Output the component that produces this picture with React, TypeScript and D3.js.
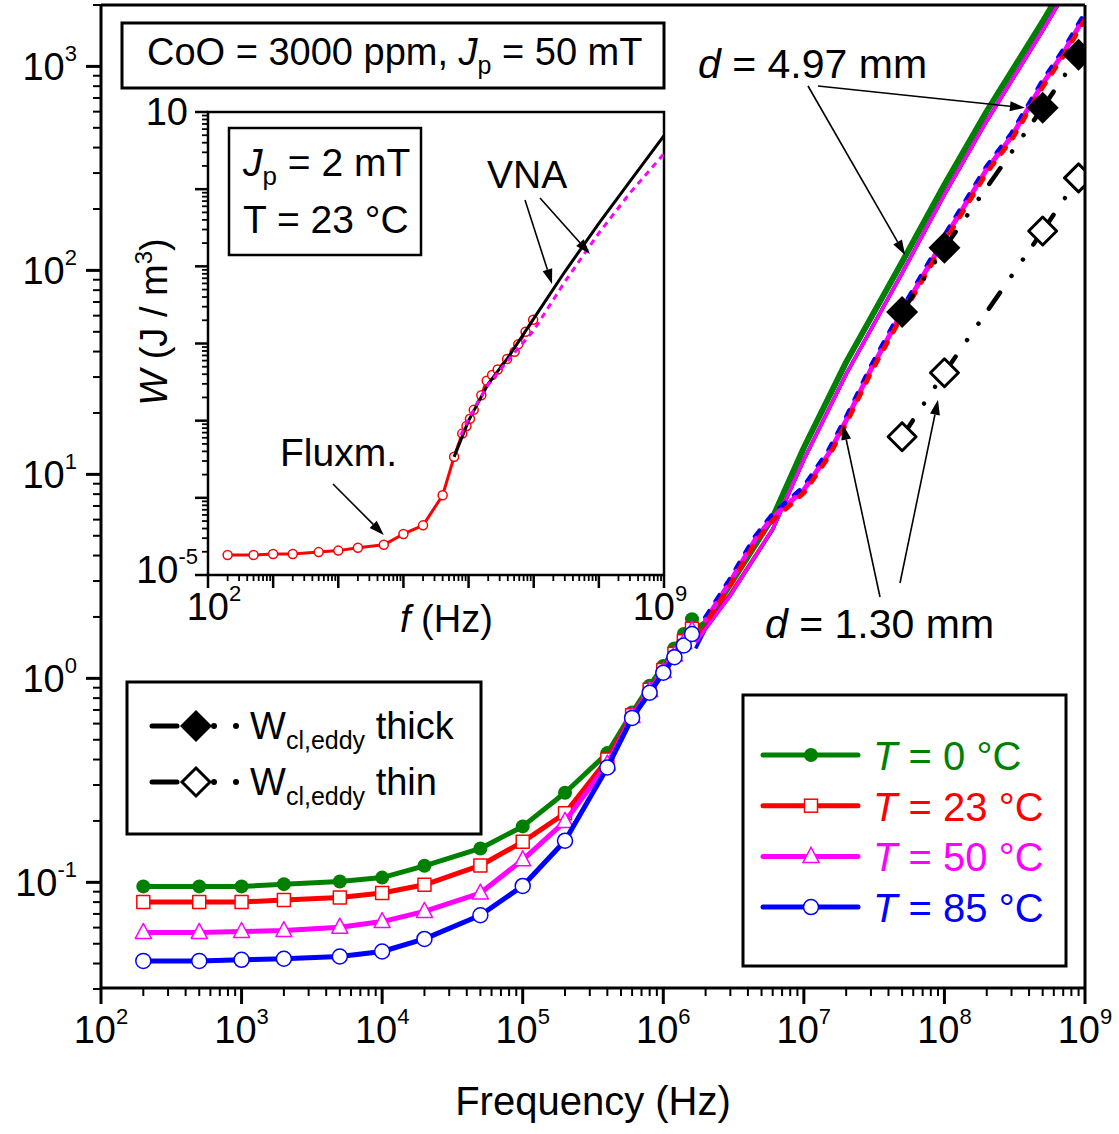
import React from "react";
import * as d3 from "d3";

const FONT = "'Liberation Sans', Arial, Helvetica, sans-serif";

// fluxmeter points, Jp = 50 mT (W in J/m^3)
const fluxFreq = [200, 500, 1e3, 2e3, 5e3, 1e4, 2e4, 5e4, 1e5, 2e5, 4e5, 6e5, 8e5, 1e6, 1.2e6, 1.4e6, 1.6e6];
const fluxT0 = [0.0955, 0.0955, 0.0955, 0.098, 0.101, 0.1055, 0.1205, 0.1466, 0.188, 0.275, 0.43, 0.68, 0.92, 1.15, 1.4, 1.65, 1.95];
const fluxT23 = [0.08, 0.08, 0.08, 0.082, 0.0843, 0.0886, 0.0973, 0.121, 0.158, 0.218, 0.4, 0.66, 0.88, 1.1, 1.32, 1.52, 1.75];
const fluxT50 = [0.0568, 0.0568, 0.0574, 0.058, 0.0603, 0.0642, 0.072, 0.0886, 0.129, 0.199, 0.38, 0.65, 0.87, 1.08, 1.3, 1.5, 1.72];
const fluxT85 = [0.0412, 0.0412, 0.0417, 0.0422, 0.0433, 0.0458, 0.0528, 0.069, 0.096, 0.16, 0.366, 0.64, 0.85, 1.065, 1.27, 1.45, 1.65];

// VNA, d = 4.97 mm (solid)
const thickFreq = [1.7e6, 2e6, 3e6, 6e6, 1e7, 2e7, 5e7, 1e8, 2e8, 5e8, 1e9];
const thickT0 = [1.75, 1.87, 2.9, 6.15, 13.5, 35.5, 110, 263, 603, 1660, 3700];
const thickT23 = [1.6, 1.8, 2.6, 5.4, 11.8, 31, 97, 235, 540, 1500, 3350];
const thickT50 = [1.5, 1.75, 2.55, 5.4, 11.8, 31, 97, 235, 540, 1500, 3350];
const thickT85 = [1.4, 1.75, 2.55, 5.35, 11.8, 31, 97, 235, 540, 1500, 3350];

// VNA, d = 1.30 mm (dashed)
const thinFreq = [2e6, 3e6, 4.5e6, 6e6, 8e6, 1e7, 1.5e7, 2e7, 3e7, 5e7, 1e8, 2e8, 3e8, 5e8, 7e8, 1e9];
const thinT23 = [1.86, 2.88, 4.62, 5.96, 7.08, 8.13, 12.2, 17.8, 31.6, 60.3, 138, 302, 437, 794, 1122, 1700];
const thinT50 = [1.93, 2.98, 4.78, 6.17, 7.33, 8.41, 12.6, 18.4, 32.7, 62.4, 143, 313, 452, 822, 1161, 1760];
const thinT85 = [1.99, 3.08, 4.95, 6.38, 7.58, 8.7, 13.1, 19.0, 33.8, 64.5, 148, 323, 468, 850, 1200, 1820];

// classical eddy current loss
const eddyFreq = [5e7, 1e8, 5e8, 9e8];
const eddyThick = [62.6, 129, 627, 1140];
const eddyThin = [15.3, 31.5, 156, 284];

// inset, Jp = 2 mT, T = 23 °C
const insetFluxFreq = [200, 500, 1e3, 2e3, 5e3, 1e4, 2e4, 5e4, 1e5, 2e5, 4e5, 6e5, 8e5, 9.3e5, 1.05e6, 1.2e6, 1.57e6, 1.9e6, 2.3e6, 2.8e6, 3.9e6, 5.1e6, 5.8e6, 7.5e6, 9.8e6];
const insetFluxW = [1.82e-5, 1.82e-5, 1.87e-5, 1.87e-5, 1.98e-5, 2.07e-5, 2.25e-5, 2.46e-5, 3.4e-5, 4.4e-5, 1.08e-4, 3.4e-4, 6.8e-4, 8.5e-4, 1.06e-3, 1.38e-3, 2.14e-3, 3.3e-3, 3.9e-3, 4.6e-3, 6.3e-3, 7.8e-3, 9.8e-3, 1.42e-2, 2.03e-2];
const insetVnaFreq = [6e5, 1e6, 2e6, 4e6, 1e7, 3e7, 1e8, 3e8, 1e9];
const insetVnaW = [3.4e-4, 1.0e-3, 3.0e-3, 6.5e-3, 0.021, 0.085, 0.36, 1.26, 4.94];
const insetVna2Freq = [7.6e5, 1e6, 2e6, 4e6, 1e7, 3e7, 1e8, 3e8, 1e9];
const insetVna2W = [6.5e-4, 1.05e-3, 2.95e-3, 6.0e-3, 0.0148, 0.063, 0.27, 0.89, 2.88];

const GREEN = "#008000", RED = "#ff0000", MAG = "#ff00ff", BLUE = "#0000ff";

const zip = (f: number[], v: number[]) => f.map((d, i) => [d, v[i]] as [number, number]);
const isMajor = (v: number) => Math.abs(Math.log10(v) - Math.round(Math.log10(v))) < 1e-6;

function Arrow({ x1, y1, x2, y2 }: { x1: number; y1: number; x2: number; y2: number }) {
  const a = Math.atan2(y2 - y1, x2 - x1);
  const L = 15, w = 5;
  const bx = x2 - L * Math.cos(a), by = y2 - L * Math.sin(a);
  const pts = [
    [x2, y2],
    [bx + w * Math.sin(a), by - w * Math.cos(a)],
    [bx - w * Math.sin(a), by + w * Math.cos(a)],
  ];
  return (
    <g>
      <line x1={x1} y1={y1} x2={bx} y2={by} stroke="#000" strokeWidth={1.6} />
      <polygon points={pts.map((p) => p.join(",")).join(" ")} fill="#000" />
    </g>
  );
}

function Marker({ kind, cx, cy, color }: { kind: string; cx: number; cy: number; color: string }) {
  if (kind === "dot") return <circle cx={cx} cy={cy} r={7} fill={color} />;
  if (kind === "square")
    return <rect x={cx - 6.5} y={cy - 6.5} width={13} height={13} fill="#fff" stroke={color} strokeWidth={1.5} />;
  if (kind === "tri")
    return (
      <polygon
        points={`${cx},${cy - 9} ${cx - 8},${cy + 6} ${cx + 8},${cy + 6}`}
        fill="#fff"
        stroke={color}
        strokeWidth={1.5}
      />
    );
  return <circle cx={cx} cy={cy} r={7.5} fill="#fff" stroke={color} strokeWidth={1.5} />;
}

const Diamond = ({ cx, cy, filled }: { cx: number; cy: number; filled: boolean }) =>
  filled ? (
    <polygon points={`${cx},${cy - 16} ${cx + 16},${cy} ${cx},${cy + 16} ${cx - 16},${cy}`} fill="#000" />
  ) : (
    <polygon
      points={`${cx},${cy - 14} ${cx + 14},${cy} ${cx},${cy + 14} ${cx - 14},${cy}`}
      fill="#fff"
      stroke="#000"
      strokeWidth={3}
    />
  );

export default function App() {
  const plot = { left: 101, right: 1085, top: 5, bottom: 988 };
  const ins = { left: 208, right: 664, top: 112, bottom: 575 };

  const x = d3.scaleLog().domain([1e2, 1e9]).range([plot.left, plot.right]);
  const y = d3.scaleLog().domain([0.03, 2000]).range([989, plot.top]);
  const xi = d3.scaleLog().domain([1e2, 1e9]).range([ins.left, ins.right]);
  const yi = d3.scaleLog().domain([1e-5, 10]).range([ins.bottom, ins.top]);

  const line = d3
    .line<[number, number]>()
    .x((d) => x(d[0]))
    .y((d) => y(d[1]));
  const lineI = d3
    .line<[number, number]>()
    .x((d) => xi(d[0]))
    .y((d) => yi(d[1]));

  const fluxSeries = [
    { vals: fluxT0, color: GREEN, kind: "dot" },
    { vals: fluxT23, color: RED, kind: "square" },
    { vals: fluxT50, color: MAG, kind: "tri" },
    { vals: fluxT85, color: BLUE, kind: "circle" },
  ];

  const eddyDash = "19.5,20.25,0.01,20,0.01,18.23";

  const legendRows = [
    { label: "0", color: GREEN, kind: "dot" },
    { label: "23", color: RED, kind: "square" },
    { label: "50", color: MAG, kind: "tri" },
    { label: "85", color: BLUE, kind: "circle" },
  ];

  return (
    <svg
      width={1119}
      height={1134}
      style={{ position: "absolute", left: 0, top: 0, background: "#fff" }}
      fontFamily={FONT}
    >
      <defs>
        <clipPath id="plotClip">
          <rect x={plot.left} y={plot.top} width={plot.right - plot.left} height={plot.bottom - plot.top} />
        </clipPath>
      </defs>
      <rect width={1119} height={1134} fill="#fff" />

      {/* ---------- main plot data ---------- */}
      <g clipPath="url(#plotClip)" fill="none" strokeLinejoin="round">
        {/* thick sample, VNA */}
        <path d={line(zip(thickFreq, thickT0)) ?? ""} stroke={GREEN} strokeWidth={6} />
        <path d={line(zip(thickFreq, thickT23)) ?? ""} stroke={RED} strokeWidth={3.5} />
        <path d={line(zip(thickFreq, thickT85)) ?? ""} stroke={BLUE} strokeWidth={3.5} />
        <path d={line(zip(thickFreq, thickT50)) ?? ""} stroke={MAG} strokeWidth={3.5} />
        {/* thin sample, VNA */}
        <path d={line(zip(thinFreq, thinT85)) ?? ""} stroke={BLUE} strokeWidth={5} strokeDasharray="7,12" strokeLinecap="round" />
        <path d={line(zip(thinFreq, thinT50)) ?? ""} stroke={MAG} strokeWidth={5} strokeDasharray="7,12" strokeDashoffset={6} strokeLinecap="round" />
        <path d={line(zip(thinFreq, thinT23)) ?? ""} stroke={RED} strokeWidth={5} strokeDasharray="7,12" strokeDashoffset={12} strokeLinecap="round" />

        {/* fluxmeter series */}
        {fluxSeries.map((s) => (
          <g key={s.color}>
            <path d={line(zip(fluxFreq, s.vals)) ?? ""} stroke={s.color} strokeWidth={5} />
            {s.vals.map((v, i) => (
              <Marker key={i} kind={s.kind} cx={x(fluxFreq[i])} cy={y(v)} color={s.color} />
            ))}
          </g>
        ))}

        {/* classical eddy current */}
        {[eddyThick, eddyThin].map((vals, k) => (
          <g key={k}>
            {vals.slice(0, -1).map((v, i) => (
              <path
                key={i}
                d={line([[eddyFreq[i], v], [eddyFreq[i + 1], vals[i + 1]]]) ?? ""}
                stroke="#000"
                strokeWidth={4.5}
                strokeLinecap="round"
                strokeDasharray={eddyDash}
              />
            ))}
            {vals.map((v, i) => (
              <Diamond key={i} cx={x(eddyFreq[i])} cy={y(v)} filled={k === 0} />
            ))}
          </g>
        ))}
      </g>

      {/* ---------- main axes ---------- */}
      <g stroke="#000">
        <line x1={plot.left} x2={plot.right} y1={plot.top} y2={plot.top} strokeWidth={3} />
        <line x1={plot.right} x2={plot.right} y1={plot.top} y2={plot.bottom} strokeWidth={3} />
        <line x1={plot.left} x2={plot.right} y1={plot.bottom} y2={plot.bottom} strokeWidth={3} />
        <line x1={plot.left} x2={plot.left} y1={plot.top} y2={plot.bottom} strokeWidth={3} />
        {x.ticks().map((t, i) => (
          <line key={i} x1={x(t)} x2={x(t)} y1={plot.bottom} y2={plot.bottom + (isMajor(t) ? 16 : 8)} strokeWidth={isMajor(t) ? 3 : 2} />
        ))}
        {y.ticks().map((t, i) => (
          <line key={i} y1={y(t)} y2={y(t)} x1={plot.left} x2={plot.left - (isMajor(t) ? 15 : 8)} strokeWidth={isMajor(t) ? 3 : 2} />
        ))}
      </g>
      <g fontSize={38} fill="#000">
        {x.ticks().filter(isMajor).map((t, i) => (
          <text key={i} x={x(t)} y={1043} textAnchor="middle">
            10<tspan dy={-19} fontSize={22}>{Math.round(Math.log10(t))}</tspan>
          </text>
        ))}
        {y.ticks().filter(isMajor).map((t, i) => (
          <text key={i} x={77} y={y(t) + 14} textAnchor="end">
            10<tspan dy={-19} fontSize={22}>{Math.round(Math.log10(t))}</tspan>
          </text>
        ))}
      </g>
      <text x={(plot.left + plot.right) / 2} y={1115} fontSize={40} textAnchor="middle">
        Frequency (Hz)
      </text>

      {/* ---------- annotations ---------- */}
      <rect x={122} y={23} width={542} height={65} fill="#fff" stroke="#000" strokeWidth={3} />
      <text x={147} y={65} fontSize={38}>
        CoO = 3000 ppm, <tspan fontStyle="italic">J</tspan>
        <tspan dy={9} fontSize={25}>p</tspan>
        <tspan dy={-9}> = 50 mT</tspan>
      </text>

      <text x={698} y={78} fontSize={41}>
        <tspan fontStyle="italic">d</tspan> = 4.97 mm
      </text>
      <Arrow x1={808} y1={86} x2={x(5.25e7)} y2={y(119)} />
      <Arrow x1={818} y1={86} x2={x(3.74e8)} y2={y(627)} />

      <text x={765} y={638} fontSize={41}>
        <tspan fontStyle="italic">d</tspan> = 1.30 mm
      </text>
      <Arrow x1={880} y1={597} x2={x(1.9e7)} y2={y(17.5)} />
      <Arrow x1={900} y1={583} x2={x(9.0e7)} y2={y(23.2)} />

      {/* ---------- eddy legend ---------- */}
      <rect x={127} y={682} width={354} height={152} fill="#fff" stroke="#000" strokeWidth={3} />
      {["thick", "thin"].map((lab, k) => {
        const ry = 726 + k * 56;
        return (
          <g key={lab}>
            <line x1={152} x2={177} y1={ry} y2={ry} stroke="#000" strokeWidth={5} strokeLinecap="round" />
            <circle cx={214} cy={ry} r={3} fill="#000" />
            <circle cx={236} cy={ry} r={3} fill="#000" />
            <Diamond cx={196} cy={ry} filled={k === 0} />
            <text x={250} y={ry + 13} fontSize={38}>
              W<tspan dy={10} fontSize={25}>cl,eddy</tspan>
              <tspan dy={-10}> {lab}</tspan>
            </text>
          </g>
        );
      })}

      {/* ---------- temperature legend ---------- */}
      <rect x={743} y={695} width={323} height={271} fill="#fff" stroke="#000" strokeWidth={3} />
      {legendRows.map((r, i) => {
        const ry = 755 + i * 50.7;
        return (
          <g key={r.label}>
            <line x1={763} x2={858} y1={ry} y2={ry} stroke={r.color} strokeWidth={5} strokeLinecap="round" />
            <Marker kind={r.kind} cx={811} cy={ry} color={r.color} />
            <text x={873} y={ry + 15} fontSize={40} fill={r.color}>
              <tspan fontStyle="italic">T</tspan> = {r.label} °C
            </text>
          </g>
        );
      })}

      {/* ---------- inset ---------- */}
      <rect x={ins.left} y={ins.top} width={ins.right - ins.left} height={ins.bottom - ins.top} fill="#fff" stroke="#000" strokeWidth={2.5} />
      <g fill="none" strokeLinejoin="round">
        <path d={lineI(zip(insetFluxFreq, insetFluxW)) ?? ""} stroke={RED} strokeWidth={3} />
        {insetFluxFreq.map((f, i) => (
          <circle key={i} cx={xi(f)} cy={yi(insetFluxW[i])} r={4.5} fill="#fff" stroke={RED} strokeWidth={1.5} />
        ))}
        <path d={lineI(zip(insetVnaFreq, insetVnaW)) ?? ""} stroke="#000" strokeWidth={3} />
        <path d={lineI(zip(insetVna2Freq, insetVna2W)) ?? ""} stroke={MAG} strokeWidth={3} strokeDasharray="6,5" />
      </g>
      <g stroke="#000">
        {xi.ticks().map((t, i) => (
          <line key={i} x1={xi(t)} x2={xi(t)} y1={ins.bottom} y2={ins.bottom + (isMajor(t) ? 13 : 6)} strokeWidth={isMajor(t) ? 2.5 : 1.8} />
        ))}
        {yi.ticks().map((t, i) => (
          <line key={i} y1={yi(t)} y2={yi(t)} x1={ins.left} x2={ins.left - (isMajor(t) ? 13 : 6)} strokeWidth={isMajor(t) ? 2.5 : 1.8} />
        ))}
      </g>
      <g fontSize={38}>
        <text x={188} y={yi(10) + 13} textAnchor="end">10</text>
        <text x={198} y={yi(1e-5) + 8} textAnchor="end">
          10<tspan dy={-19} fontSize={22}>-5</tspan>
        </text>
        <text x={xi(1e2) + 6} y={620} textAnchor="middle">
          10<tspan dy={-19} fontSize={22}>2</tspan>
        </text>
        <text x={xi(1e9) - 4} y={620} textAnchor="middle">
          10<tspan dy={-19} fontSize={22}>9</tspan>
        </text>
        <text x={400} y={632}>
          <tspan fontStyle="italic">f</tspan> (Hz)
        </text>
        <text transform="translate(167,322) rotate(-90)" textAnchor="middle">
          <tspan fontStyle="italic">W</tspan> (J / m<tspan dy={-15} fontSize={24}>3</tspan>
          <tspan dy={15}>)</tspan>
        </text>
      </g>
      <rect x={229} y={128} width={192} height={127} fill="#fff" stroke="#000" strokeWidth={2.5} />
      <g fontSize={39}>
        <text x={243} y={176}>
          <tspan fontStyle="italic">J</tspan>
          <tspan dy={9} fontSize={26}>p</tspan>
          <tspan dy={-9}> = 2 mT</tspan>
        </text>
        <text x={243} y={233}>T = 23 °C</text>
        <text x={487} y={188}>VNA</text>
        <text x={280} y={466}>Fluxm.</text>
      </g>
      <Arrow x1={525} y1={200} x2={xi(1.91e7)} y2={yi(0.059)} />
      <Arrow x1={540} y1={198} x2={xi(7.3e7)} y2={yi(0.145)} />
      <Arrow x1={333} y1={484} x2={xi(5e4)} y2={yi(3.3e-5)} />
    </svg>
  );
}
